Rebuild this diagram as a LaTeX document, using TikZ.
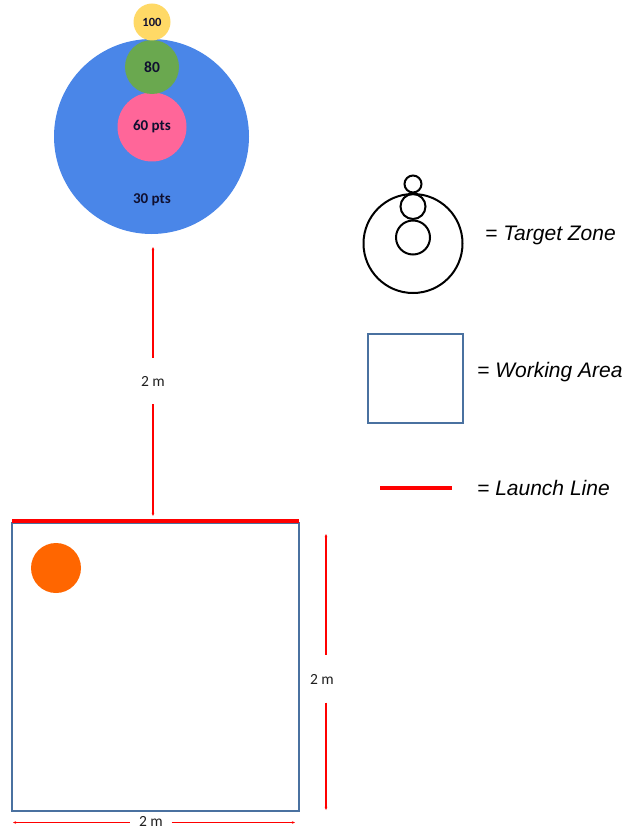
\documentclass[tikz,border=0pt]{standalone}
\usepackage{fontspec}
\setmainfont{Carlito}
\newfontfamily\arialfont{Liberation Sans}
\usetikzlibrary{arrows.meta}
\definecolor{zoneblue}{HTML}{4A86E8}
\definecolor{zonegreen}{HTML}{6AA84F}
\definecolor{zonepink}{HTML}{FF6699}
\definecolor{zoneyellow}{HTML}{FFD966}
\definecolor{areablue}{HTML}{4A71A0}
\definecolor{launchred}{HTML}{FF0000}
\definecolor{ballorange}{HTML}{FF6600}
\definecolor{dimtext}{HTML}{202020}
\definecolor{zonetext}{HTML}{101030}
\tikzset{
  zone/.style={circle, inner sep=0pt, text=zonetext, font=\bfseries},
  legcircle/.style={circle, draw=black, line width=2pt, inner sep=0pt},
  legtext/.style={anchor=west, inner sep=0pt, font=\arialfont\itshape\fontsize{21}{24}\selectfont},
  dimline/.style={draw=launchred, line width=1.1pt, -{Stealth[length=3pt,width=2.5pt]}},
  dimlabel/.style={inner sep=0pt, text=dimtext, font=\fontsize{15.5}{17}\selectfont},
  area/.style={draw=areablue, line width=2.5pt},
  launch/.style={draw=launchred, line width=4.5pt}
}
\begin{document}
\begin{tikzpicture}[x=1pt, y=-1pt]
\useasboundingbox (0,0) rectangle (639,829);
% target zone
\node[zone, fill=zoneblue, minimum size=195pt] (z30) at (151.5,136.5) {};
\node[zone, fill=zonepink, minimum size=69pt, font=\bfseries\fontsize{15}{17}\selectfont] (z60) at (152,127) {60 pts};
\node[zone, fill=zonegreen, minimum size=54pt, font=\bfseries\fontsize{15.5}{17}\selectfont] (z80) at (152,67) {80};
\node[zone, fill=zoneyellow, minimum size=37pt, font=\bfseries\fontsize{12.5}{14}\selectfont] (z100) at (152,22) {100};
\node[inner sep=0pt, text=zonetext, font=\bfseries\fontsize{15}{17}\selectfont] (l30) at (152,200) {30 pts};
% distance target to launch line
\coordinate (dtop) at (153,247);
\coordinate (dbot) at (153,516);
\node[dimlabel, minimum height=46pt] (dlab) at (153,381) {2 m};
\draw[dimline, {Stealth[length=3pt,width=2.5pt]}-] (dtop) -- (dlab.north);
\draw[dimline] (dlab.south) -- (dbot);
% working area
\node[area, minimum width=287pt, minimum height=288pt, inner sep=0pt] (wa) at (155.5,667) {};
\draw[launch] (12,521) coordinate (ll1) -- (299,521) coordinate (ll2);
\node[circle, fill=ballorange, minimum size=50pt, inner sep=0pt] (ball) at (56,568) {};
% right dimension
\coordinate (rtop) at (326,534);
\coordinate (rbot) at (326,810);
\node[dimlabel, minimum height=47pt] (rlab) at (322,679) {2 m};
\draw[dimline, {Stealth[length=3pt,width=2.5pt]}-] (rtop) -- (rlab.north -| rtop);
\draw[dimline] (rlab.south -| rtop) -- (rbot);
% bottom dimension
\coordinate (bl) at (13,822.5);
\coordinate (br) at (295,822.5);
\node[dimlabel, minimum width=41pt] (blab) at (151,821.5) {2 m};
\draw[dimline, {Stealth[length=3pt,width=2.5pt]}-] (bl) -- (blab.west |- bl);
\draw[dimline] (blab.east |- br) -- (br);
% legend: target zone
\node[legcircle, minimum size=99pt] (g30) at (413,243.5) {};
\node[legcircle, minimum size=34pt] (g60) at (413,237.5) {};
\node[legcircle, minimum size=25pt] (g80) at (413,206.5) {};
\node[legcircle, minimum size=17pt] (g100) at (413,184) {};
\node[legtext] (tz) at (485,235) {= Target Zone};
% legend: working area
\node[area, minimum width=95pt, minimum height=89pt, inner sep=0pt] (gwa) at (415.5,378.5) {};
\node[legtext] (twa) at (477,372) {= Working Area};
% legend: launch line
\coordinate (gl1) at (380,488);
\coordinate (gl2) at (452,488);
\draw[launch, line width=4pt] (gl1) -- (gl2);
\node[legtext] (tll) at (477,488) {= Launch Line};
\end{tikzpicture}
\end{document}
